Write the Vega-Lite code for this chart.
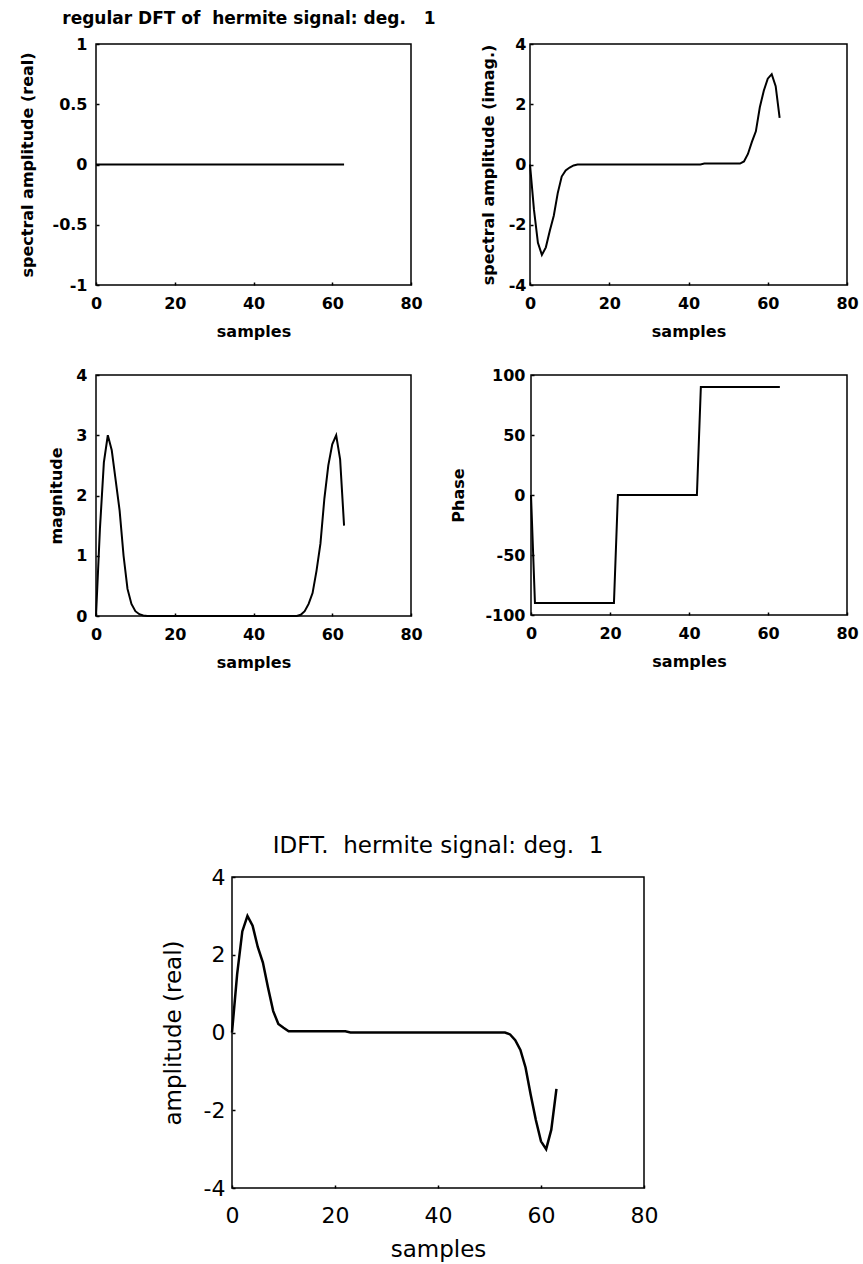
{
"$schema":"https://vega.github.io/schema/vega-lite/v6.json",
"background":"white",
"padding":{"left":18,"top":10,"right":0,"bottom":0},
"title":{"text":"regular DFT of\u00a0 hermite signal: deg.\u00a0\u00a0 1","anchor":"start","frame":"bounds","dx":44,"font":"DejaVu Sans","fontSize":17,"fontWeight":"bold","color":"black","offset":7},
"config":{
"view":{"stroke":"black","strokeWidth":1.5},
"axis":{"domain":false,"grid":false,"ticks":true,"tickSize":-3,"tickColor":"black","tickWidth":1.5,"labelFont":"DejaVu Sans","labelFontSize":16,"labelFontWeight":"bold","labelColor":"black","titleFont":"DejaVu Sans","titleFontSize":16,"titleFontWeight":"bold","titleColor":"black","labelFlush":false,"labelOverlap":false},
"line":{"color":"black","strokeWidth":2}
},
"datasets":{
"spec":[
{"k":0,"re":0,"im":0,"mag":0,"ph":0},
{"k":1,"re":0,"im":-1.5,"mag":1.45,"ph":-90},
{"k":2,"re":0,"im":-2.6,"mag":2.55,"ph":-90},
{"k":3,"re":0,"im":-3.0,"mag":3.0,"ph":-90},
{"k":4,"re":0,"im":-2.75,"mag":2.75,"ph":-90},
{"k":5,"re":0,"im":-2.2,"mag":2.25,"ph":-90},
{"k":6,"re":0,"im":-1.7,"mag":1.75,"ph":-90},
{"k":7,"re":0,"im":-0.95,"mag":1.0,"ph":-90},
{"k":8,"re":0,"im":-0.4,"mag":0.45,"ph":-90},
{"k":9,"re":0,"im":-0.2,"mag":0.2,"ph":-90},
{"k":10,"re":0,"im":-0.1,"mag":0.08,"ph":-90},
{"k":11,"re":0,"im":-0.03,"mag":0.03,"ph":-90},
{"k":12,"re":0,"im":0,"mag":0.01,"ph":-90},
{"k":13,"re":0,"im":0,"mag":0,"ph":-90},
{"k":14,"re":0,"im":0,"mag":0,"ph":-90},
{"k":15,"re":0,"im":0,"mag":0,"ph":-90},
{"k":16,"re":0,"im":0,"mag":0,"ph":-90},
{"k":17,"re":0,"im":0,"mag":0,"ph":-90},
{"k":18,"re":0,"im":0,"mag":0,"ph":-90},
{"k":19,"re":0,"im":0,"mag":0,"ph":-90},
{"k":20,"re":0,"im":0,"mag":0,"ph":-90},
{"k":21,"re":0,"im":0,"mag":0,"ph":-90},
{"k":22,"re":0,"im":0,"mag":0,"ph":0},
{"k":23,"re":0,"im":0,"mag":0,"ph":0},
{"k":24,"re":0,"im":0,"mag":0,"ph":0},
{"k":25,"re":0,"im":0,"mag":0,"ph":0},
{"k":26,"re":0,"im":0,"mag":0,"ph":0},
{"k":27,"re":0,"im":0,"mag":0,"ph":0},
{"k":28,"re":0,"im":0,"mag":0,"ph":0},
{"k":29,"re":0,"im":0,"mag":0,"ph":0},
{"k":30,"re":0,"im":0,"mag":0,"ph":0},
{"k":31,"re":0,"im":0,"mag":0,"ph":0},
{"k":32,"re":0,"im":0,"mag":0,"ph":0},
{"k":33,"re":0,"im":0,"mag":0,"ph":0},
{"k":34,"re":0,"im":0,"mag":0,"ph":0},
{"k":35,"re":0,"im":0,"mag":0,"ph":0},
{"k":36,"re":0,"im":0,"mag":0,"ph":0},
{"k":37,"re":0,"im":0,"mag":0,"ph":0},
{"k":38,"re":0,"im":0,"mag":0,"ph":0},
{"k":39,"re":0,"im":0,"mag":0,"ph":0},
{"k":40,"re":0,"im":0,"mag":0,"ph":0},
{"k":41,"re":0,"im":0,"mag":0,"ph":0},
{"k":42,"re":0,"im":0,"mag":0,"ph":0},
{"k":43,"re":0,"im":0,"mag":0,"ph":90},
{"k":44,"re":0,"im":0.03,"mag":0,"ph":90},
{"k":45,"re":0,"im":0.03,"mag":0,"ph":90},
{"k":46,"re":0,"im":0.03,"mag":0,"ph":90},
{"k":47,"re":0,"im":0.03,"mag":0,"ph":90},
{"k":48,"re":0,"im":0.03,"mag":0,"ph":90},
{"k":49,"re":0,"im":0.03,"mag":0,"ph":90},
{"k":50,"re":0,"im":0.03,"mag":0,"ph":90},
{"k":51,"re":0,"im":0.03,"mag":0,"ph":90},
{"k":52,"re":0,"im":0.03,"mag":0.02,"ph":90},
{"k":53,"re":0,"im":0.03,"mag":0.08,"ph":90},
{"k":54,"re":0,"im":0.1,"mag":0.2,"ph":90},
{"k":55,"re":0,"im":0.35,"mag":0.38,"ph":90},
{"k":56,"re":0,"im":0.75,"mag":0.75,"ph":90},
{"k":57,"re":0,"im":1.1,"mag":1.2,"ph":90},
{"k":58,"re":0,"im":1.9,"mag":1.95,"ph":90},
{"k":59,"re":0,"im":2.45,"mag":2.5,"ph":90},
{"k":60,"re":0,"im":2.85,"mag":2.85,"ph":90},
{"k":61,"re":0,"im":3.0,"mag":3.0,"ph":90},
{"k":62,"re":0,"im":2.6,"mag":2.6,"ph":90},
{"k":63,"re":0,"im":1.55,"mag":1.5,"ph":90}
],
"idft":[
{"n":0,"amp":0},{"n":1,"amp":1.5},{"n":2,"amp":2.6},{"n":3,"amp":3.0},{"n":4,"amp":2.75},{"n":5,"amp":2.2},{"n":6,"amp":1.8},{"n":7,"amp":1.15},{"n":8,"amp":0.55},{"n":9,"amp":0.22},{"n":10,"amp":0.12},{"n":11,"amp":0.03},
{"n":12,"amp":0.03},{"n":13,"amp":0.03},{"n":14,"amp":0.03},{"n":15,"amp":0.03},{"n":16,"amp":0.03},{"n":17,"amp":0.03},{"n":18,"amp":0.03},{"n":19,"amp":0.03},{"n":20,"amp":0.03},{"n":21,"amp":0.03},{"n":22,"amp":0.03},
{"n":23,"amp":0},{"n":24,"amp":0},{"n":25,"amp":0},{"n":26,"amp":0},{"n":27,"amp":0},{"n":28,"amp":0},{"n":29,"amp":0},{"n":30,"amp":0},{"n":31,"amp":0},{"n":32,"amp":0},{"n":33,"amp":0},{"n":34,"amp":0},{"n":35,"amp":0},{"n":36,"amp":0},{"n":37,"amp":0},{"n":38,"amp":0},{"n":39,"amp":0},{"n":40,"amp":0},{"n":41,"amp":0},{"n":42,"amp":0},{"n":43,"amp":0},{"n":44,"amp":0},{"n":45,"amp":0},{"n":46,"amp":0},{"n":47,"amp":0},{"n":48,"amp":0},{"n":49,"amp":0},{"n":50,"amp":0},{"n":51,"amp":0},{"n":52,"amp":0},{"n":53,"amp":0},
{"n":54,"amp":-0.05},{"n":55,"amp":-0.2},{"n":56,"amp":-0.45},{"n":57,"amp":-0.9},{"n":58,"amp":-1.6},{"n":59,"amp":-2.25},{"n":60,"amp":-2.8},{"n":61,"amp":-3.0},{"n":62,"amp":-2.5},{"n":63,"amp":-1.45}
]
},
"align":"none",
"spacing":163,
"vconcat":[
{"align":"none","spacing":26,"vconcat":[
 {"align":"none","spacing":56,"hconcat":[
  {"width":315,"height":241,"data":{"name":"spec"},"mark":{"type":"line"},
   "encoding":{
    "x":{"field":"k","type":"quantitative","scale":{"domain":[0,80],"nice":false,"zero":false},"axis":{"values":[0,20,40,60,80],"title":"samples","labelPadding":13,"minExtent":26,"maxExtent":26,"titlePadding":12}},
    "y":{"field":"re","type":"quantitative","scale":{"domain":[-1,1],"nice":false},"axis":{"values":[-1,-0.5,0,0.5,1],"format":"~g","labelExpr":"replace(datum.label,'\u2212','-')","title":"spectral amplitude (real)","labelPadding":12,"minExtent":45,"maxExtent":45,"titlePadding":16}}
   }},
  {"width":317,"height":241,"data":{"name":"spec"},"mark":{"type":"line"},
   "encoding":{
    "x":{"field":"k","type":"quantitative","scale":{"domain":[0,80],"nice":false,"zero":false},"axis":{"values":[0,20,40,60,80],"title":"samples","labelPadding":13,"minExtent":26,"maxExtent":26,"titlePadding":12}},
    "y":{"field":"im","type":"quantitative","scale":{"domain":[-4,4],"nice":false},"axis":{"values":[-4,-2,0,2,4],"format":"d","labelExpr":"replace(datum.label,'\u2212','-')","title":"spectral amplitude (imag.)","labelPadding":7,"minExtent":23,"maxExtent":23,"titlePadding":11}}
   }}
 ]},
 {"align":"none","spacing":26,"hconcat":[
   {"width":315,"height":241,"data":{"name":"spec"},"mark":{"type":"line"},
    "encoding":{
     "x":{"field":"k","type":"quantitative","scale":{"domain":[0,80],"nice":false,"zero":false},"axis":{"values":[0,20,40,60,80],"title":"samples","labelPadding":13,"minExtent":26,"maxExtent":26,"titlePadding":12}},
     "y":{"field":"mag","type":"quantitative","scale":{"domain":[0,4],"nice":false},"axis":{"values":[0,1,2,3,4],"format":"d","title":"magnitude","labelPadding":12,"minExtent":21,"maxExtent":21,"titlePadding":11}}
    }},
   {"width":316,"height":240,"data":{"name":"spec"},"mark":{"type":"line"},
    "encoding":{
     "x":{"field":"k","type":"quantitative","scale":{"domain":[0,80],"nice":false,"zero":false},"axis":{"values":[0,20,40,60,80],"title":"samples","labelPadding":13,"minExtent":26,"maxExtent":26,"titlePadding":12}},
     "y":{"field":"ph","type":"quantitative","scale":{"domain":[-100,100],"nice":false},"axis":{"values":[-100,-50,0,50,100],"format":"d","labelExpr":"replace(datum.label,'\u2212','-')","title":"Phase","labelPadding":9,"minExtent":49,"maxExtent":49,"titlePadding":16}}
    }}
 ]}
]},
{"align":"none","spacing":0,"hconcat":[
 {"width":65,"height":10,"data":{"values":[]},"mark":"point","view":{"stroke":null}},
 {"width":412,"height":311,"data":{"name":"idft"},
  "title":{"text":"IDFT.\u00a0 hermite signal: deg.\u00a0 1","font":"DejaVu Sans","fontSize":23,"fontWeight":"normal","color":"black","offset":8},
  "mark":{"type":"line","strokeWidth":2.5},
  "encoding":{
   "x":{"field":"n","type":"quantitative","scale":{"domain":[0,80],"nice":false,"zero":false},"axis":{"values":[0,20,40,60,80],"title":"samples","labelFontSize":22,"labelFontWeight":"normal","titleFontSize":23,"titleFontWeight":"normal","labelPadding":20,"minExtent":42,"maxExtent":42,"titlePadding":8}},
   "y":{"field":"amp","type":"quantitative","scale":{"domain":[-4,4],"nice":false},"axis":{"values":[-4,-2,0,2,4],"format":"d","labelExpr":"replace(datum.label,'\u2212','-')","title":"amplitude (real)","labelFontSize":22,"labelFontWeight":"normal","titleFontSize":23,"titleFontWeight":"normal","labelPadding":10,"minExtent":33,"maxExtent":33,"titlePadding":14}}
  }}
]}
]
}
